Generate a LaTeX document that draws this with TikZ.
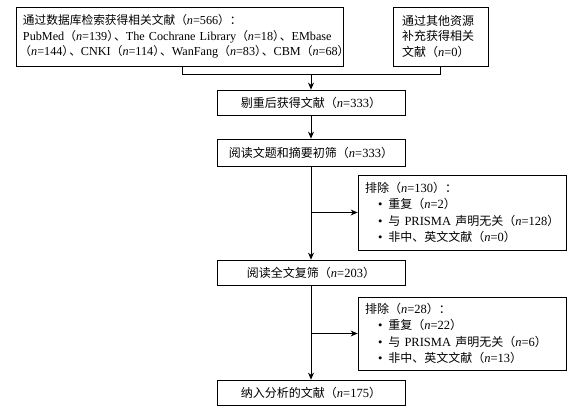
\documentclass[tikz,border=0pt]{standalone}
\usepackage{fontspec}
\setmainfont{Liberation Serif}
\newfontfamily\cjk{Noto Sans CJK SC}[Scale=0.96]
\usetikzlibrary{arrows.meta, positioning}

\newcommand{\zh}[1]{{\cjk #1}}
\newcommand{\nv}[1]{\textit{n}=#1}
\newcommand{\rpdun}{\zh{）\kern-0.42em、}}
\newcommand{\itm}[1]{\mbox{\hspace*{13pt}\textbullet\hspace{6pt}#1}}

\begin{document}
\begin{tikzpicture}[
        x=1pt, y=-1pt,
        box/.style={draw, rectangle, line width=0.8pt, inner sep=0pt, minimum width=188pt, minimum height=25pt, align=center, font=\fontsize{12.5}{15.5}\selectfont},
        textbox/.style={draw, rectangle, line width=0.8pt, inner ysep=0pt, align=left, font=\fontsize{12.5}{15.5}\selectfont},
        exclbox/.style={textbox, text width=194pt, inner xsep=7pt, minimum height=74pt, font=\fontsize{12.5}{16.5}\selectfont},
        arrow/.style={-{Stealth[length=7pt, width=6pt]}, line width=0.8pt},
        line/.style={line width=0.8pt}
    ]
        \useasboundingbox (0,0) rectangle (578,412);

        % Sources
        \node[textbox, text width=313pt, inner xsep=7pt, minimum height=59pt, font=\fontsize{12.2}{15.5}\selectfont] (search) at (179.5, 36.5)
            {\mbox{\zh{通过数据库检索获得相关文献（}\nv{566}\zh{）：}}\\
             \mbox{PubMed\zh{（}\nv{139}\rpdun The Cochrane Library\zh{（}\nv{18}\rpdun EMbase}\\
             \mbox{\zh{\kern-0.3em（}\nv{144}\rpdun CNKI\zh{（}\nv{114}\rpdun WanFang\zh{（}\nv{83}\rpdun CBM\zh{（}\nv{68}\zh{）}}};
        \node[textbox, text width=77pt, inner xsep=9pt, minimum height=59pt] (other) at (440.5, 36.5)
            {\zh{通过其他资源}\\\zh{补充获得相关}\\\zh{文献（}\nv{0}\zh{）}};

        % Main column
        \node[box] (dedup) at (311, 102.5) {\zh{剔重后获得文献（}\nv{333}\zh{）}};
        \node[box, minimum height=27pt] (screen) at (311, 152.5) {\zh{阅读文题和摘要初筛（}\nv{333}\zh{）}};
        \node[box] (fulltext) at (311, 272.5) {\zh{阅读全文复筛（}\nv{203}\zh{）}};
        \node[box] (included) at (311, 392.5) {\zh{纳入分析的文献（}\nv{175}\zh{）}};

        % Exclusions
        \node[exclbox, minimum height=75pt] (excl1) at (462, 212.5)
            {\zh{排除（}\nv{130}\zh{）：}\\
             \itm{\zh{重复（}\nv{2}\zh{）}}\\
             \itm{\zh{与} PRISMA \zh{声明无关（}\nv{128}\zh{）}}\\
             \itm{\zh{非中、英文文献（}\nv{0}\zh{）}}};
        \node[exclbox, minimum height=73pt] (excl2) at (462, 333.5)
            {\zh{排除（}\nv{28}\zh{）：}\\
             \itm{\zh{重复（}\nv{22}\zh{）}}\\
             \itm{\zh{与} PRISMA \zh{声明无关（}\nv{6}\zh{）}}\\
             \itm{\zh{非中、英文文献（}\nv{13}\zh{）}}};

        % Connectors
        \coordinate (merge) at (311, 74);
        \draw[line] ([xshift=2.5pt]search.south) |- (merge);
        \draw[line] (other.south) |- (merge);
        \draw[arrow] (merge) -- (dedup.north);
        \draw[arrow] (dedup) -- (screen);
        \draw[arrow] (screen) -- (fulltext);
        \draw[arrow] (fulltext) -- (included);
        \draw[arrow] (screen.south |- excl1.west) -- (excl1.west);
        \draw[arrow] (fulltext.south |- excl2.west) -- (excl2.west);
    \end{tikzpicture}
\end{document}
